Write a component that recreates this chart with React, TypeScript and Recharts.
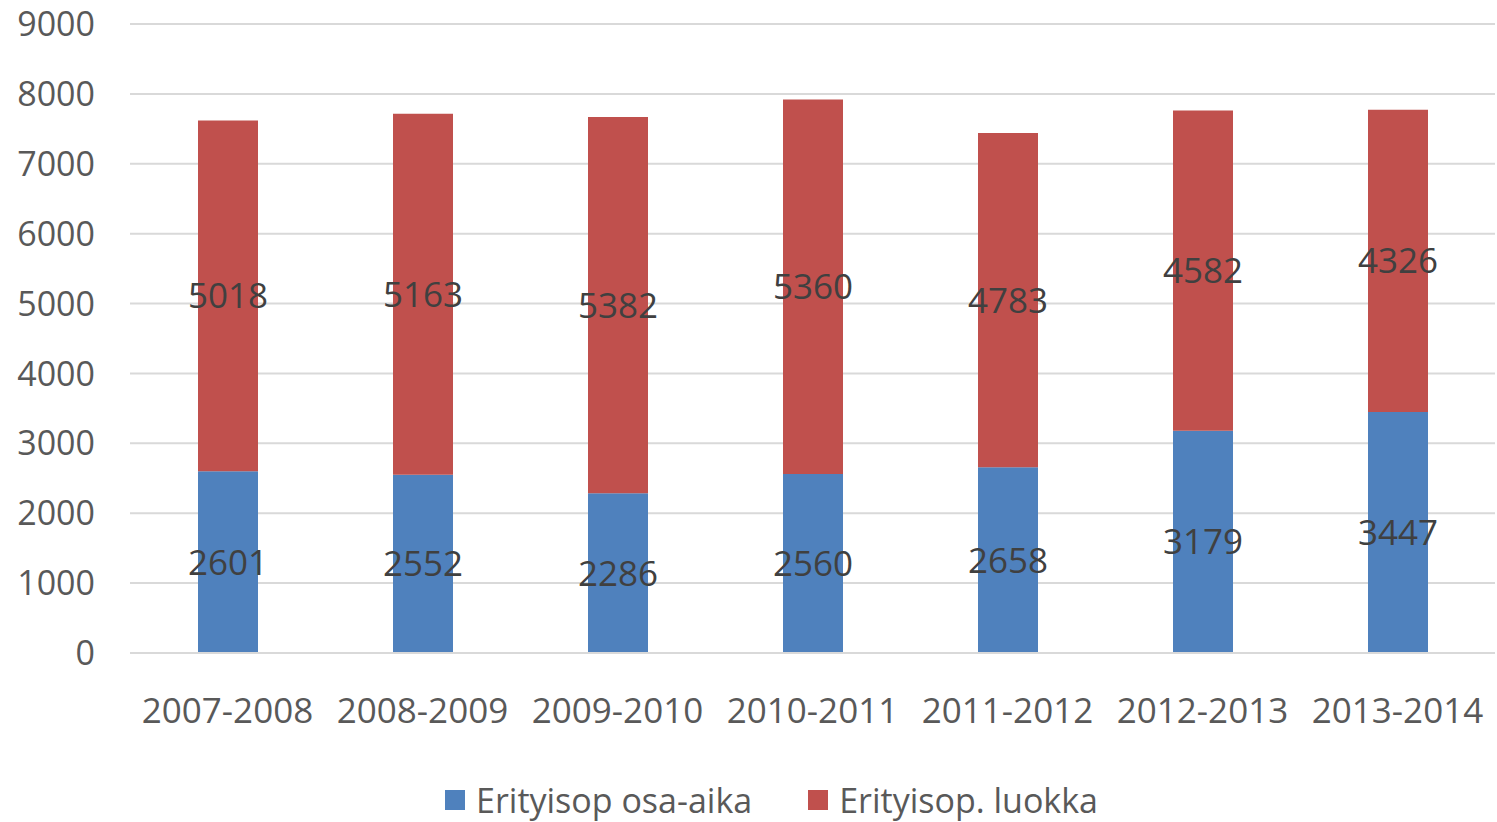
import React from 'react';
import { BarChart, Bar, XAxis, YAxis, CartesianGrid, Legend, LabelList } from 'recharts';

const years = ['2007-2008', '2008-2009', '2009-2010', '2010-2011', '2011-2012', '2012-2013', '2013-2014'];
const osaAika = [2601, 2552, 2286, 2560, 2658, 3179, 3447];
const luokka = [5018, 5163, 5382, 5360, 4783, 4582, 4326];
const yTicks = [0, 1000, 2000, 3000, 4000, 5000, 6000, 7000, 8000, 9000];

const SERIES = [
  { key: 'osaAika', name: 'Erityisop osa-aika', color: '#4f81bd' },
  { key: 'luokka', name: 'Erityisop. luokka', color: '#c0504d' },
];

const data = years.map((year, i) => ({ year, osaAika: osaAika[i], luokka: luokka[i] }));

const FONT = '"Open Sans", sans-serif';

function LegendContent() {
  return (
    <div
      style={{
        height: 44,
        display: 'flex',
        justifyContent: 'center',
        alignItems: 'center',
        paddingLeft: 48,
        fontFamily: FONT,
        fontSize: 34,
        color: '#595959',
      }}
    >
      {SERIES.map((s, i) => (
        <div key={s.key} style={{ display: 'flex', alignItems: 'center', marginLeft: i === 0 ? 0 : 56 }}>
          <div style={{ width: 20, height: 20, backgroundColor: s.color, marginRight: 11 }} />
          <span>{s.name}</span>
        </div>
      ))}
    </div>
  );
}

export default function App() {
  return (
    <div style={{ position: 'absolute', left: 0, top: 0, width: 1497, height: 822, background: '#fff' }}>
      <BarChart
        width={1497}
        height={822}
        data={data}
        margin={{ top: 24, right: 2, left: 0, bottom: 0 }}
        style={{ fontFamily: FONT }}
      >
        <CartesianGrid vertical={false} stroke="#d9d9d9" strokeWidth={2} />
        <XAxis
          dataKey="year"
          height={125}
          axisLine={{ stroke: '#d9d9d9', strokeWidth: 2 }}
          tickLine={false}
          tickSize={0}
          tickMargin={45}
          tick={{ fill: '#595959', fontSize: 35 }}
          interval={0}
        />
        <YAxis
          width={130}
          domain={[0, 9000]}
          ticks={yTicks}
          axisLine={false}
          tickLine={false}
          tickSize={0}
          tickMargin={35}
          tick={{ fill: '#595959', fontSize: 34 }}
          interval={0}
        />
        <Legend verticalAlign="bottom" content={<LegendContent />} />
        {SERIES.map((s) => (
          <Bar key={s.key} dataKey={s.key} name={s.name} stackId="a" fill={s.color} barSize={60} isAnimationActive={false}>
            <LabelList dataKey={s.key} position="center" fill="#404040" fontSize={35} />
          </Bar>
        ))}
      </BarChart>
    </div>
  );
}
